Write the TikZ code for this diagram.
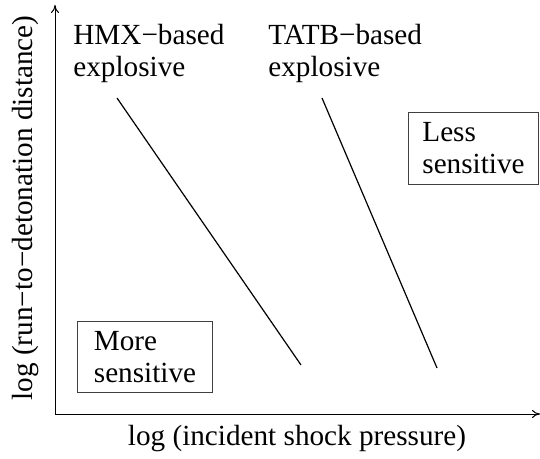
\documentclass[tikz,border=0pt]{standalone}
\usepackage{fontspec}
\setmainfont{Liberation Serif}
\usepackage{tikz}
\usetikzlibrary{arrows.meta, positioning}

\begin{document}
\begin{tikzpicture}[
  x=0.5pt, y=-0.5pt,
  axis/.style={draw=black, line width=0.5pt, -{To[length=4pt, width=4pt]}},
  trend/.style={draw=black, line width=0.6pt},
  lbl/.style={font=\fontsize{14.6}{16}\selectfont, inner sep=0pt, align=left},
  sensbox/.style={lbl, draw=black!75, line width=0.5pt, inner xsep=6.5pt, inner ysep=5pt}
]
\useasboundingbox (0,0) rectangle (540,459);

% axes
\coordinate (origin) at (55,414);
\draw[axis] (origin) -- (55,5);
\draw[axis] (origin) -- (540,414);

\node[lbl, rotate=90] (ylab) at (26,208) {log (run−to−detonation distance)};
\node[lbl] (xlab) at (297,439) {log (incident shock pressure)};

% run-distance lines
\coordinate (hmxtop) at (117,98);
\coordinate (hmxbot) at (301,365);
\coordinate (tatbtop) at (322,98);
\coordinate (tatbbot) at (437,368);
\draw[trend] (hmxtop) -- (hmxbot);
\draw[trend] (tatbtop) -- (tatbbot);

\node[lbl, anchor=north west] (hmx) at (73,24) {HMX−based\\explosive};
\node[lbl, anchor=north west] (tatb) at (268,24) {TATB−based\\explosive};

% sensitivity boxes
\node[sensbox, anchor=north west, minimum width=65pt, minimum height=36pt] (less) at (408,112) {Less\\sensitive};
\node[sensbox, anchor=north west, minimum width=67.5pt, minimum height=35.5pt] (more) at (77,321) {More\\sensitive};

\end{tikzpicture}
\end{document}
